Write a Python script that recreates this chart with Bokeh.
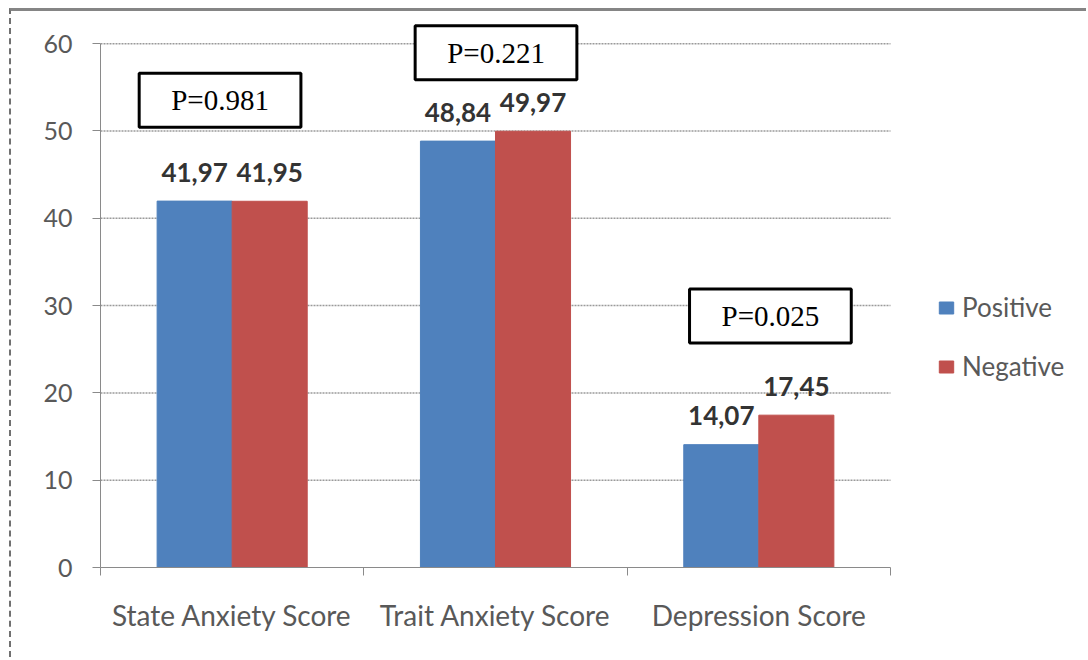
from bokeh.plotting import figure
from bokeh.models import Range1d, FixedTicker, Label, Legend, LegendItem, ColumnDataSource
from bokeh.core.properties import value
from bokeh.embed import file_html
from bokeh.resources import INLINE

categories = ["State Anxiety Score", "Trait Anxiety Score", "Depression Score"]
positive = [41.97, 48.84, 14.07]
negative = [41.95, 49.97, 17.45]
positive_labels = ["41,97", "48,84", "14,07"]
negative_labels = ["41,95", "49,97", "17,45"]
p_values = ["P=0.981", "P=0.221", "P=0.025"]
y_ticks = [0, 10, 20, 30, 40, 50, 60]

BLUE = "#4F81BD"
RED = "#C0504D"
FONT = "Lato"

n = len(categories)
centers = [i + 0.5 for i in range(n)]
bar_w = 0.285
dodge = 0.1425

src_pos = ColumnDataSource(dict(x=[c - dodge for c in centers], top=positive, label=positive_labels))
src_neg = ColumnDataSource(dict(x=[c + dodge for c in centers], top=negative, label=negative_labels))

W, H = 1077, 649
p = figure(width=W, height=H, output_backend="svg", toolbar_location=None,
           x_range=Range1d(0, 3.752), y_range=Range1d(0, 63),
           min_border_left=89, min_border_right=0, min_border_top=6, min_border_bottom=93)
p.outline_line_color = None
p.styles = {"margin-top": "8px", "margin-left": "9px",
            "border-top": "3px solid #858585", "border-left": "2px dashed #707070"}

# horizontal grid lines spanning the category area only
grid_src = ColumnDataSource(dict(y=y_ticks[1:], x0=[0] * (len(y_ticks) - 1),
                                 x1=[n] * (len(y_ticks) - 1)))
p.segment(x0="x0", x1="x1", y0="y", y1="y", source=grid_src,
          line_color="#9a9a9a", line_dash="2 1", line_width=1.5)

r_pos = p.vbar(x="x", top="top", width=bar_w, bottom=0, source=src_pos,
               fill_color=BLUE, line_color=BLUE)
r_neg = p.vbar(x="x", top="top", width=bar_w, bottom=0, source=src_neg,
               fill_color=RED, line_color=RED)

for src in (src_pos, src_neg):
    p.text(x="x", y="top", text="label", source=src, text_font=value(FONT),
           text_font_style="bold", text_font_size="26px", text_align="center",
           text_baseline="middle", y_offset=-29, text_color="#333333")

# axes
ya = p.yaxis[0]
ya.ticker = FixedTicker(ticks=y_ticks)
ya.bounds = (0, 60)
ya.axis_line_color = "#8a8a8a"
ya.major_tick_line_color = "#8a8a8a"
ya.major_tick_out = 8
ya.major_tick_in = 0
ya.minor_tick_line_color = None
ya.major_label_text_font = FONT
ya.major_label_text_font_size = "25px"
ya.major_label_text_color = "#595959"
ya.major_label_standoff = 20

xa = p.xaxis[0]
xa.ticker = FixedTicker(ticks=centers, minor_ticks=list(range(n + 1)))
xa.major_label_overrides = {c: lab for c, lab in zip(centers, categories)}
xa.bounds = (0, n)
xa.axis_line_color = "#8a8a8a"
xa.major_tick_line_color = None
xa.minor_tick_line_color = "#8a8a8a"
xa.minor_tick_out = 8
xa.minor_tick_in = 0
xa.major_label_text_font = FONT
xa.major_label_text_font_size = "28px"
xa.major_label_text_color = "#595959"
xa.major_label_standoff = 22

p.xgrid.grid_line_color = None
p.ygrid.grid_line_color = None

# P-value boxes
box_pos = [(0.454, 53.53), (1.502, 58.97), (2.544, 28.8)]
for (bx, by), txt in zip(box_pos, p_values):
    p.add_layout(Label(x=bx, y=by, text=txt, text_font="Liberation Serif",
                       text_font_size="29px", text_color="black",
                       text_align="center", text_baseline="middle",
                       border_line_color="black", border_line_width=3,
                       background_fill_color="white", padding=(32, 11)))

legend = Legend(items=[LegendItem(label="Positive", renderers=[r_pos]),
                       LegendItem(label="Negative", renderers=[r_neg])],
                location=(832, 180), orientation="vertical",
                glyph_width=18, glyph_height=15, label_height=30, spacing=27,
                padding=5, label_standoff=7,
                label_text_font=FONT, label_text_font_size="26px",
                label_text_color="#595959",
                border_line_alpha=0, background_fill_alpha=0)
p.add_layout(legend)

open("out.html", "w").write(file_html(p, INLINE))
